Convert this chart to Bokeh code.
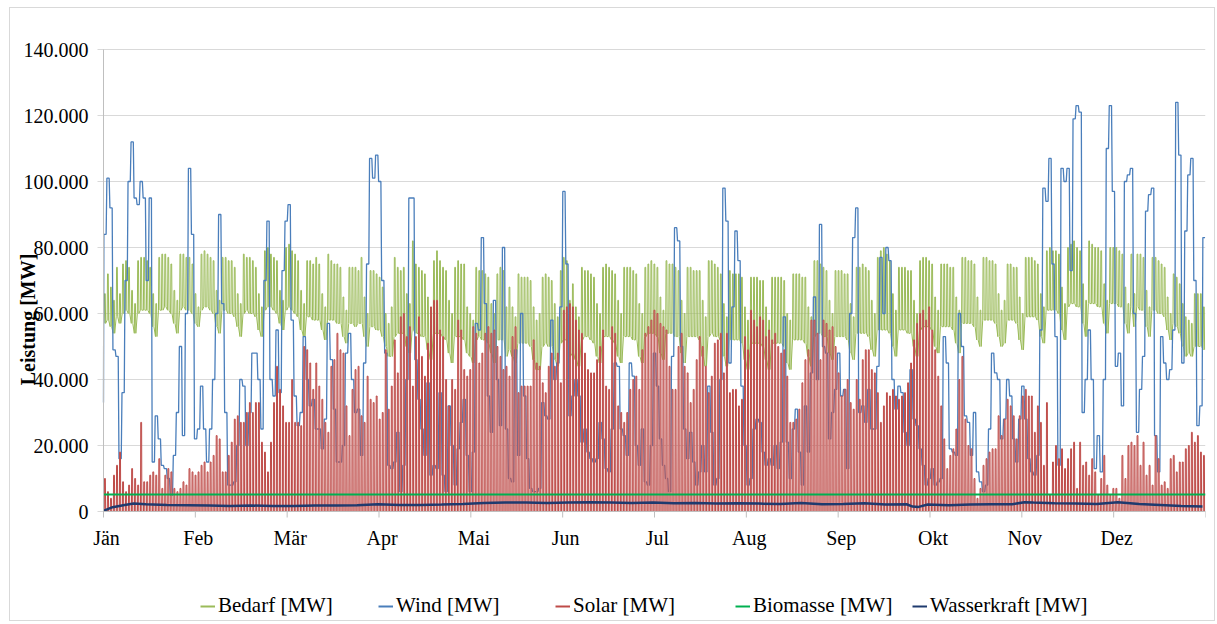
import math
from bokeh.plotting import figure
from bokeh.models import Legend, LegendItem, Range1d
from bokeh.core.properties import value
from bokeh.embed import file_html
from bokeh.resources import INLINE

months = ["Jän", "Feb", "Mär", "Apr", "Mai", "Jun", "Jul", "Aug", "Sep", "Okt", "Nov", "Dez"]
y_ticks = [0, 20000, 40000, 60000, 80000, 100000, 120000, 140000]
y_tick_labels = ["0", "20.000", "40.000", "60.000", "80.000", "100.000", "120.000", "140.000"]

# Bedarf, daily high / low (1000 MW); first row Thu..Sun, then Mon..Sun rows
bedarf_hi = [
    66, 72, 68, 64,
    74, 66, 75, 76, 74, 67, 63,
    76, 77, 77, 76, 74, 66, 63,
    77, 78, 78, 77, 75, 67, 64,
    78, 78, 77, 77, 75, 66, 62,
    78, 79, 78, 77, 76, 67, 64,
    77, 77, 76, 76, 74, 66, 63,
    78, 77, 77, 76, 74, 66, 62,
    79, 80, 78, 77, 76, 67, 64,
    80, 81, 79, 78, 76, 67, 63,
    76, 76, 75, 77, 75, 66, 62,
    78, 76, 75, 75, 74, 65, 61,
    74, 74, 74, 73, 77, 65, 60,
    73, 73, 72, 71, 68, 60, 57,
    62, 77, 74, 73, 74, 66, 63,
    82, 75, 74, 73, 72, 65, 61,
    76, 79, 76, 74, 73, 64, 60,
    74, 76, 75, 75, 62, 60, 58,
    74, 73, 73, 72, 71, 63, 60,
    72, 74, 73, 62, 68, 62, 59,
    72, 71, 71, 71, 70, 62, 58,
    60, 71, 72, 71, 70, 63, 59,
    73, 77, 76, 64, 69, 62, 59,
    74, 73, 73, 72, 71, 63, 60,
    74, 75, 74, 73, 72, 64, 60,
    74, 74, 74, 73, 72, 63, 60,
    74, 75, 76, 75, 74, 65, 61,
    76, 75, 75, 74, 73, 64, 60,
    74, 74, 73, 73, 73, 64, 59,
    76, 76, 75, 74, 72, 63, 59,
    73, 72, 72, 72, 71, 62, 58,
    71, 71, 71, 70, 70, 62, 58,
    71, 71, 71, 71, 70, 60, 58,
    72, 72, 72, 71, 71, 62, 59,
    76, 76, 75, 74, 73, 64, 60,
    73, 73, 73, 72, 72, 63, 59,
    74, 74, 75, 74, 73, 64, 60,
    77, 79, 80, 78, 76, 66, 61,
    74, 74, 74, 73, 73, 64, 60,
    76, 77, 77, 76, 75, 65, 61,
    75, 75, 75, 74, 74, 65, 61,
    77, 77, 76, 76, 75, 65, 61,
    77, 77, 76, 76, 75, 66, 61,
    64, 75, 75, 74, 74, 65, 60,
    77, 77, 77, 76, 75, 66, 62,
    79, 80, 79, 79, 78, 68, 63,
    80, 81, 82, 80, 79, 69, 64,
    82, 81, 80, 80, 79, 69, 64,
    80, 80, 80, 79, 78, 68, 63,
    78, 66, 78, 78, 77, 67, 62,
    77, 77, 76, 75, 74, 65, 60,
    72, 71, 69, 63, 59, 58, 57,
    66, 66, 66, 62,
]
bedarf_lo = [
    57, 58, 56, 54,
    59, 57, 60, 61, 60, 57, 54,
    60, 61, 61, 61, 60, 56, 53,
    61, 61, 62, 61, 60, 57, 54,
    61, 62, 61, 61, 60, 57, 56,
    61, 62, 62, 61, 60, 56, 54,
    61, 61, 60, 60, 59, 56, 53,
    60, 61, 60, 60, 59, 55, 53,
    61, 62, 62, 61, 60, 57, 55,
    61, 62, 61, 60, 59, 55, 53,
    59, 59, 58, 58, 58, 55, 52,
    58, 58, 58, 57, 57, 53, 51,
    57, 57, 56, 57, 57, 53, 50,
    56, 56, 55, 55, 53, 50, 47,
    47, 53, 54, 54, 54, 50, 48,
    55, 54, 54, 53, 53, 49, 46,
    54, 54, 54, 53, 52, 48, 45,
    53, 53, 53, 52, 48, 47, 45,
    52, 53, 52, 52, 51, 48, 45,
    52, 52, 52, 47, 49, 47, 45,
    51, 51, 51, 51, 50, 46, 43,
    43, 50, 51, 50, 50, 46, 44,
    51, 52, 52, 47, 48, 46, 44,
    52, 53, 53, 52, 51, 47, 45,
    53, 53, 53, 52, 51, 47, 45,
    53, 53, 53, 52, 52, 47, 45,
    53, 54, 54, 54, 53, 48, 46,
    54, 54, 54, 53, 53, 48, 45,
    53, 53, 53, 53, 52, 47, 44,
    53, 54, 53, 53, 52, 47, 44,
    52, 52, 52, 52, 51, 46, 43,
    51, 51, 51, 51, 50, 46, 43,
    51, 51, 51, 51, 50, 45, 43,
    52, 52, 52, 52, 51, 47, 44,
    53, 54, 54, 53, 53, 48, 46,
    53, 53, 53, 53, 52, 48, 46,
    54, 54, 54, 54, 53, 49, 47,
    55, 55, 55, 55, 54, 50, 47,
    55, 55, 55, 54, 54, 50, 47,
    55, 56, 56, 56, 55, 50, 48,
    56, 56, 56, 56, 55, 51, 48,
    57, 57, 57, 57, 56, 52, 50,
    58, 58, 58, 58, 57, 53, 50,
    51, 58, 58, 58, 57, 52, 49,
    59, 59, 59, 59, 58, 53, 51,
    61, 61, 61, 61, 60, 55, 52,
    62, 63, 63, 62, 62, 57, 53,
    63, 63, 63, 62, 62, 57, 54,
    63, 63, 63, 62, 62, 57, 54,
    62, 56, 62, 61, 61, 56, 53,
    61, 61, 60, 60, 59, 55, 52,
    57, 56, 54, 50, 47, 48, 47,
    50, 50, 50, 49,
]

# Wind, one level per day (1000 MW); wind_start = value at the very first hour
wind_start = 33
wind = [
    84, 101, 92, 49, 47, 16, 36, 70, 100, 112,
    95, 93, 100, 95, 70, 95, 15, 29, 22, 14,
    13, 10, 5, 17, 30, 50, 23, 60, 104, 84,
    22, 25, 38, 25, 15, 25, 40, 60, 90, 63,
    30, 8, 8, 9, 20, 40, 38, 20, 30, 48,
    48, 40, 25, 70, 88, 40, 35, 55, 36, 73,
    88, 93, 58, 35, 26, 30, 53, 40, 32, 34,
    25, 25, 19, 28, 57, 46, 31, 15, 15, 20,
    48, 54, 40, 30, 31, 17, 45, 75, 107, 101,
    108, 100, 70, 48, 14, 13, 15, 24, 6, 14,
    40, 95, 95, 46, 34, 25, 17, 39, 11, 14,
    13, 36, 11, 6, 32, 20, 8, 19, 27, 34,
    17, 6, 18, 57, 55, 83, 63, 35, 24, 64,
    40, 26, 80, 25, 10, 9, 49, 17, 60, 35,
    16, 7, 6, 6, 7, 33, 29, 28, 58, 40,
    45, 62, 97, 75, 29, 35, 40, 35, 21, 25,
    18, 16, 15, 16, 27, 22, 13, 12, 25, 45,
    44, 25, 23, 17, 45, 41, 20, 14, 25, 9,
    8, 20, 48, 38, 22, 14, 10, 6, 47, 86,
    82, 50, 25, 16, 24, 15, 8, 12, 20, 12,
    38, 24, 8, 10, 40, 98, 88, 45, 62, 85,
    76, 38, 20, 8, 10, 25, 28, 27, 18, 14,
    16, 14, 20, 13, 21, 59, 21, 10, 25, 31,
    18, 8, 32, 18, 42, 65, 40, 87, 50, 48,
    22, 30, 37, 48, 35, 37, 13, 60, 83, 92,
    30, 32, 27, 37, 25, 25, 44, 77, 60, 80,
    76, 40, 31, 38, 36, 24, 20, 43, 28, 26,
    19, 14, 8, 10, 13, 8, 9, 10, 53, 45,
    19, 18, 17, 60, 50, 29, 27, 17, 30, 12,
    9, 6, 8, 25, 48, 42, 40, 22, 28, 40,
    35, 22, 15, 28, 38, 28, 16, 12, 11, 17,
    55, 98, 94, 107, 75, 53, 14, 104, 100, 104,
    73, 119, 123, 121, 30, 40, 55, 40, 13, 23,
    12, 40, 110, 123, 97, 44, 48, 32, 100, 102,
    104, 60, 24, 37, 47, 91, 96, 98, 23, 12,
    53, 45, 40, 43, 55, 124, 108, 45, 85, 102,
    107, 70, 26, 32, 83,
]

# Solar, daily peak (1000 MW)
solar = [
    10, 6, 4, 11, 14, 18, 9, 6, 8, 13,
    10, 8, 27, 9, 9, 11, 12, 11, 16, 7,
    11, 13, 12, 7, 6, 7, 9, 8, 13, 12,
    11, 12, 14, 15, 12, 15, 17, 23, 22, 12,
    12, 17, 21, 28, 29, 27, 27, 30, 33, 30,
    33, 33, 21, 18, 12, 21, 33, 44, 37, 32,
    27, 27, 40, 27, 27, 26, 50, 49, 45, 37,
    45, 38, 34, 27, 24, 44, 46, 54, 49, 48,
    32, 23, 37, 43, 44, 29, 27, 41, 34, 33,
    35, 28, 30, 49, 31, 38, 52, 42, 59, 60,
    53, 56, 38, 53, 59, 47, 41, 51, 62, 64,
    64, 55, 53, 40, 32, 40, 37, 58, 55, 43,
    41, 43, 56, 54, 45, 48, 54, 56, 54, 55,
    50, 47, 43, 44, 41, 53, 56, 36, 38, 38,
    38, 38, 52, 45, 44, 39, 36, 44, 48, 44,
    48, 39, 61, 62, 63, 62, 58, 55, 54, 48,
    43, 42, 42, 46, 50, 55, 38, 37, 56, 54,
    32, 30, 27, 30, 37, 40, 41, 37, 49, 54,
    56, 58, 61, 60, 57, 56, 55, 44, 37, 37,
    50, 54, 44, 42, 33, 37, 46, 53, 50, 44,
    36, 41, 51, 52, 54, 42, 54, 36, 37, 37,
    32, 34, 53, 49, 61, 58, 56, 59, 58, 53,
    55, 52, 54, 50, 48, 49, 41, 27, 27, 28,
    31, 39, 46, 49, 58, 58, 54, 46, 58, 57,
    55, 56, 50, 42, 35, 37, 40, 33, 31, 40,
    34, 46, 49, 49, 43, 42, 36, 27, 32, 36,
    35, 37, 35, 34, 35, 36, 39, 45, 52, 57,
    60, 61, 58, 62, 55, 49, 41, 32, 22, 13,
    17, 19, 25, 40, 47, 28, 20, 19, 10, 4,
    7, 14, 16, 18, 19, 19, 29, 23, 28, 34,
    32, 29, 22, 29, 35, 37, 35, 35, 24, 32,
    27, 14, 33, 5, 15, 20, 16, 19, 13, 16,
    19, 21, 7, 21, 14, 15, 11, 16, 12, 5,
    10, 17, 8, 5, 7, 7, 4, 17, 10, 20,
    21, 20, 23, 14, 21, 11, 14, 8, 23, 16,
    8, 9, 7, 16, 17, 12, 15, 15, 19, 20,
    24, 21, 23, 18, 17,
]

# Wasserkraft (1000 MW) at given day positions
wasser_day = [0, 3, 7, 10, 14, 21, 28, 35, 42, 49, 56, 63, 70, 77, 84, 91, 98, 105,
              112, 119, 126, 133, 140, 147, 154, 161, 168, 175, 182, 189, 196, 203,
              210, 217, 224, 231, 238, 245, 252, 259, 266, 268, 270, 273, 280, 287,
              294, 301, 305, 308, 315, 322, 329, 336, 343, 350, 357, 364]
wasser = [0.2, 1.3, 2.0, 2.4, 2.2, 2.0, 1.9, 1.8, 1.7, 1.8, 1.7, 1.7, 1.8, 1.8, 1.9,
          2.2, 2.0, 2.0, 2.1, 2.3, 2.6, 2.7, 2.7, 2.6, 2.7, 2.8, 2.7, 2.6, 2.7, 2.5,
          2.6, 2.4, 2.5, 2.4, 2.3, 2.6, 2.2, 2.3, 2.5, 2.1, 2.2, 1.5, 1.4, 2.1, 1.9,
          2.1, 2.2, 2.2, 2.8, 2.7, 2.5, 2.4, 2.3, 2.8, 2.3, 2.0, 1.7, 1.5]

biomasse = 5.15  # 1000 MW, constant
n_days = 365

col_bed, col_wind, col_sol, col_bio, col_was = "#9bbb59", "#4a7ebb", "#be4b48", "#00b050", "#1f3a6e"

# ---- build polylines (hour positions) from the daily values ----
bx, by = [], []
for d in range(n_days):
    h = d * 24
    bx += [h + 5, h + 8, h + 14, h + 17]
    by += [bedarf_lo[d] * 1000, bedarf_hi[d] * 1000, bedarf_hi[d] * 1000, bedarf_lo[d] * 1000]

wx, wy = [0], [wind_start * 1000]
for d in range(n_days):
    h = d * 24
    wx += [h + 3, h + 21]
    wy += [wind[d] * 1000, wind[d] * 1000]

sx, sy = [], []
for d in range(n_days):
    h = d * 24
    sx += [h + 6, h + 8, h + 15, h + 17]
    sy += [0, solar[d] * 1000, solar[d] * 1000, 0]

hx = [d * 24 for d in wasser_day]
hy = [v * 1000 for v in wasser]

# ---- layout: frame covers the whole inner chart (10..1205 px, 10..620 px);
#      hour 0 sits at 103 px, value 0 at 511 px, 140000 at 49 px
px_per_hour = (1205 - 103) / 8760.0
x_start = -(103 - 10) / px_per_hour
px_per_unit = (511 - 49) / 140000.0
y_bottom = -(620 - 511) / px_per_unit
y_top = 140000 + (49 - 10) / px_per_unit

p = figure(width=1206, height=614, output_backend="svg", toolbar_location=None,
           x_range=Range1d(x_start, 8760), y_range=Range1d(y_bottom, y_top),
           x_axis_location=None, y_axis_location=None,
           min_border_left=0, min_border_right=11, min_border_top=2,
           min_border_bottom=2)
p.styles = {"margin-left": "9px", "margin-top": "7px", "border": "1px solid #d9d9d9"}
p.background_fill_color = "white"
p.border_fill_color = "white"
p.outline_line_color = None
p.xgrid.visible = False
p.ygrid.visible = False

# horizontal gridlines with their tick marks (from 97 px to the right edge)
ytick_len = 6 / px_per_hour
p.segment(x0=[-ytick_len] * len(y_ticks), y0=y_ticks, x1=[8760] * len(y_ticks), y1=y_ticks,
          line_color="#d9d9d9", line_width=1)

r_bed = p.line(bx, by, line_color=col_bed, line_width=1.0)
r_wind = p.line(wx, wy, line_color=col_wind, line_width=1.3)
p.varea(x=sx, y1=[0] * len(sx), y2=sy, fill_color="#ecc8c7", fill_alpha=1.0)
r_sol = p.line(sx, sy, line_color=col_sol, line_width=1.0)
r_bio = p.line([0, 8760], [biomasse * 1000, biomasse * 1000], line_color=col_bio, line_width=2)
r_was = p.line(hx, hy, line_color=col_was, line_width=2.5)

# y axis line, tick labels and title
p.segment(x0=[0], y0=[0], x1=[0], y1=[140000], line_color="#bfbfbf", line_width=1)
p.text(x=[0] * len(y_ticks), y=y_ticks, text=y_tick_labels, x_offset=-15,
       text_font=value("Liberation Serif"), text_font_size="20px",
       text_align="right", text_baseline="middle", text_color="black")
title_y = (511 - 319) / px_per_unit
p.text(x=[0], y=[title_y], text=["Leistung [MW]"], x_offset=-76, angle=math.pi / 2,
       text_font=value("Liberation Serif"), text_font_size="20px", text_font_style="bold",
       text_align="center", text_baseline="middle", text_color="black")

# x axis (ticks every 730 h)
x_ticks = [730 * i for i in range(13)]
tick_len = 6 / px_per_unit
p.segment(x0=[0], y0=[0], x1=[8760], y1=[0], line_color="#bfbfbf", line_width=1)
p.segment(x0=x_ticks, y0=[0] * len(x_ticks), x1=x_ticks, y1=[-tick_len] * len(x_ticks),
          line_color="#bfbfbf", line_width=1)
p.text(x=x_ticks[:12], y=[0] * 12, text=months, x_offset=3, y_offset=26,
       text_font=value("Liberation Serif"), text_font_size="20px",
       text_align="center", text_baseline="middle", text_color="black")

# legend symbols: lines lying outside the visible range, drawn 2 px thick in the legend
off = x_start - 1000
leg_renderers = [p.line([off, off + 1], [0, 0], line_color=c, line_width=2)
                 for c in (col_bed, col_wind, col_sol, col_bio, col_was)]
entries = [("Bedarf [MW]", 200), ("Wind [MW]", 378), ("Solar [MW]", 555),
           ("Biomasse [MW]", 735), ("Wasserkraft [MW]", 912)]
for (lab, gx), rend in zip(entries, leg_renderers):
    lg = Legend(items=[LegendItem(label=lab, renderers=[rend])],
                location=(gx - 10, 2), orientation="horizontal",
                glyph_width=15, glyph_height=20, label_standoff=3,
                padding=0, margin=0, border_line_color=None,
                background_fill_alpha=0, label_text_font="Liberation Serif",
                label_text_font_size="21px", label_text_color="black",
                label_height=20)
    p.add_layout(lg, "center")

open("out.html", "w").write(file_html(p, INLINE))
